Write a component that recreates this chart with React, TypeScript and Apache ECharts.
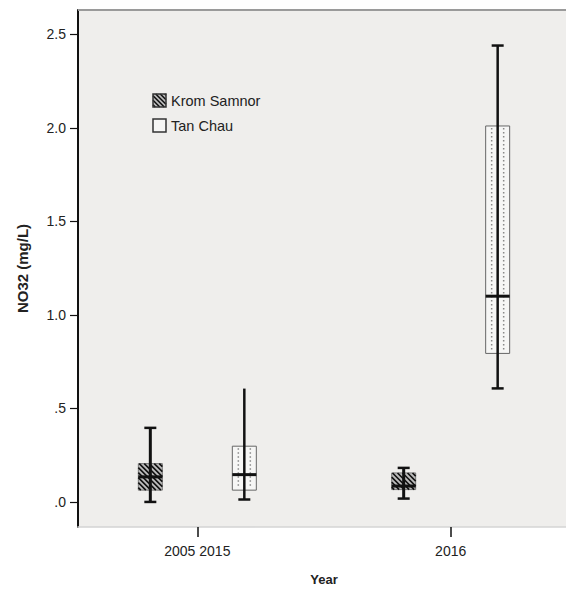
import React, { useEffect, useRef } from "react";
import * as echarts from "echarts";

// ---- Data ----
const years = ["2005 2015", "2016"];
const seriesNames = ["Krom Samnor", "Tan Chau"];
// [min, Q1, median, Q3, max]
const kromSamnor = [
  [0.0, 0.063, 0.134, 0.205, 0.396],
  [0.018, 0.066, 0.085, 0.155, 0.182],
];
const tanChau = [
  [0.013, 0.063, 0.146, 0.298, 0.606],
  [0.607, 0.794, 1.1, 2.01, 2.44],
];
const yTicks = [0, 0.5, 1.0, 1.5, 2.0, 2.5];
const xTicks = [1, 2];

const FONT = "Liberation Sans, Arial, sans-serif";
const OFFSET = 0.1855; // category offset (axis units)
const BOX_W = 24;
const CAP_W = 12;

function fmtY(v: number) {
  const s = v.toFixed(1);
  return s.startsWith("0") ? s.slice(1) : s;
}

function hatchLines(x0: number, y0: number, w: number, h: number, step: number) {
  const out: any[] = [];
  for (let c = step / 2; c < w + h; c += step) {
    const u1 = Math.max(0, c - h);
    const v1 = c - u1;
    const u2 = Math.min(w, c);
    const v2 = c - u2;
    out.push({
      type: "line",
      shape: { x1: x0 + u1, y1: y0 + h - v1, x2: x0 + u2, y2: y0 + h - v2 },
      style: { stroke: "#111", lineWidth: 1.6 },
      silent: true,
    });
  }
  return out;
}

function makeRender(kind: "krom" | "tan") {
  return (params: any, api: any) => {
    const xv = api.value(0);
    const mn = api.value(1);
    const q1 = api.value(2);
    const md = api.value(3);
    const q3 = api.value(4);
    const mx = api.value(5);
    const off = kind === "krom" ? -OFFSET : OFFSET;
    const cx = api.coord([xv + off, 0])[0];
    const yMin = api.coord([xv, mn])[1];
    const yQ1 = api.coord([xv, q1])[1];
    const yMd = api.coord([xv, md])[1];
    const yQ3 = api.coord([xv, q3])[1];
    const yMax = api.coord([xv, mx])[1];
    const bx = cx - BOX_W / 2;
    const children: any[] = [];
    children.push({
      type: "rect",
      shape: { x: bx, y: yQ3, width: BOX_W, height: yQ1 - yQ3 },
      style: { fill: kind === "krom" ? "#bdbdbd" : "#f6f6f5", stroke: kind === "krom" ? "#777" : "#666", lineWidth: 1 },
    });
    if (kind === "krom") {
      children.push(...hatchLines(bx, yQ3, BOX_W, yQ1 - yQ3, 5));
    } else {
      [-6, 6].forEach((d) => {
        children.push({
          type: "line",
          shape: { x1: cx + d, y1: yQ3 + 2, x2: cx + d, y2: yQ1 - 2 },
          style: { stroke: "#888", lineWidth: 1.5, lineDash: [1.5, 2.5] },
        });
      });
    }
    const topCap = !(kind === "tan" && params.dataIndex === 0);
    children.push({
      type: "line",
      shape: { x1: cx, y1: yMax, x2: cx, y2: yMin },
      style: { stroke: "#111", lineWidth: kind === "krom" ? 3 : 2.5 },
    });
    if (topCap) {
      children.push({
        type: "line",
        shape: { x1: cx - CAP_W / 2, y1: yMax, x2: cx + CAP_W / 2, y2: yMax },
        style: { stroke: "#111", lineWidth: 2.5 },
      });
    }
    children.push({
      type: "line",
      shape: { x1: cx - CAP_W / 2, y1: yMin, x2: cx + CAP_W / 2, y2: yMin },
      style: { stroke: "#111", lineWidth: 2.5 },
    });
    children.push({
      type: "line",
      shape: { x1: bx, y1: yMd, x2: bx + BOX_W, y2: yMd },
      style: { stroke: "#111", lineWidth: 3 },
    });
    return { type: "group", children };
  };
}

export default function App() {
  const ref = useRef<HTMLDivElement>(null);
  useEffect(() => {
    if (!ref.current) return;
    const chart = echarts.init(ref.current, undefined, { renderer: "svg" });
    const legendHatch = hatchLines(153, 94, 13, 13, 4.5);
    chart.setOption({
      animation: false,
      backgroundColor: "#ffffff",
      textStyle: { fontFamily: FONT },
      grid: {
        left: 78,
        top: 10,
        width: 492,
        height: 517,
        show: true,
        backgroundColor: "#efeeec",
        borderWidth: 0,
        outerBoundsMode: "none",
        containLabel: false,
      },
      xAxis: {
        type: "value",
        min: 0.529,
        max: 2.471,
        name: "Year",
        nameLocation: "middle",
        nameGap: 46,
        nameTextStyle: { fontFamily: FONT, fontSize: 13, fontWeight: "bold", color: "#222" },
        axisLine: { show: true, onZero: false, lineStyle: { color: "#d4d4d4", width: 1.5 } },
        axisTick: { show: true, customValues: xTicks, length: 10, lineStyle: { color: "#111", width: 1.5 } },
        axisLabel: {
          customValues: xTicks,
          margin: 17,
          fontFamily: FONT,
          fontSize: 14,
          color: "#222",
          formatter: (v: number) => years[Math.round(v) - 1] ?? "",
        },
        splitLine: { show: false },
      },
      yAxis: {
        type: "value",
        min: -0.134,
        max: 2.63,
        name: "NO32 (mg/L)",
        nameLocation: "middle",
        nameGap: 48,
        nameTextStyle: { fontFamily: FONT, fontSize: 15, fontWeight: "bold", color: "#222" },
        axisLine: { show: true, onZero: false, lineStyle: { color: "#111", width: 2 } },
        axisTick: { show: true, customValues: yTicks, length: 8, lineStyle: { color: "#111", width: 1.2 } },
        axisLabel: {
          customValues: yTicks,
          margin: 12,
          fontFamily: FONT,
          fontSize: 14,
          color: "#222",
          formatter: (v: number) => fmtY(v),
        },
        splitLine: { show: false },
      },
      graphic: [
        {
          type: "line",
          shape: { x1: 78, y1: 10, x2: 566, y2: 10 },
          style: { stroke: "#9a9a9a", lineWidth: 2 },
          z: 5,
        },
        {
          type: "group",
          children: [
            { type: "rect", shape: { x: 153, y: 94, width: 13, height: 13 }, style: { fill: "#bdbdbd" } },
            ...legendHatch,
            { type: "rect", shape: { x: 153, y: 94, width: 13, height: 13 }, style: { fill: "none", stroke: "#333", lineWidth: 1.5 } },
            { type: "text", x: 171, y: 101, style: { text: seriesNames[0], fontFamily: FONT, fontSize: 14.5, fill: "#222", verticalAlign: "middle" } },
            { type: "rect", shape: { x: 153, y: 119, width: 13, height: 13 }, style: { fill: "#f6f6f5", stroke: "#333", lineWidth: 1.5 } },
            { type: "text", x: 171, y: 126, style: { text: seriesNames[1], fontFamily: FONT, fontSize: 14.5, fill: "#222", verticalAlign: "middle" } },
          ],
        },
      ],
      series: [
        {
          name: seriesNames[0],
          type: "custom",
          renderItem: makeRender("krom"),
          data: kromSamnor.map((d, i) => [xTicks[i], ...d]),
          encode: { x: 0, y: [1, 2, 3, 4, 5] },
          clip: false,
        },
        {
          name: seriesNames[1],
          type: "custom",
          renderItem: makeRender("tan"),
          data: tanChau.map((d, i) => [xTicks[i], ...d]),
          encode: { x: 0, y: [1, 2, 3, 4, 5] },
          clip: false,
        },
      ],
    });
    return () => chart.dispose();
  }, []);
  return <div ref={ref} style={{ position: "absolute", left: 0, top: 0, width: 566, height: 595 }} />;
}
